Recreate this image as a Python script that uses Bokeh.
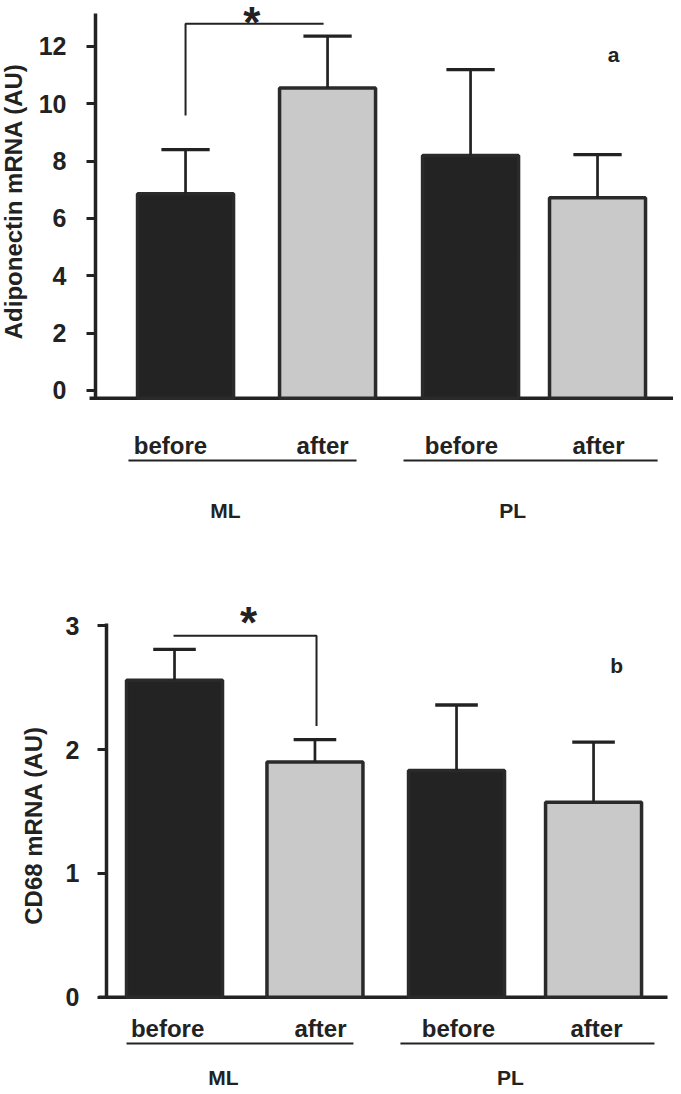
from bokeh.plotting import figure
from bokeh.layouts import column
from bokeh.models import Range1d, FixedTicker
from bokeh.core.properties import value
from bokeh.embed import file_html
from bokeh.resources import INLINE
import math

# ---------------- data ----------------
phases = ["before", "after", "before", "after"]
group_names = ["ML", "PL"]
adipo_mean = [6.86, 10.55, 8.20, 6.72]
adipo_err_top = [8.40, 12.36, 11.19, 8.23]
cd68_mean = [2.56, 1.90, 1.83, 1.575]
cd68_err_top = [2.81, 2.08, 2.36, 2.06]
adipo_ticks = [0, 2, 4, 6, 8, 10, 12]
cd68_ticks = [0, 1, 2, 3]

FONT = "Liberation Sans"
INK = "#222222"
BAR_FILL = ["#232323", "#c9c9c9", "#232323", "#c9c9c9"]


def txt(p, x, y, t, size, align="center", baseline="alphabetic", angle=0.0):
    p.text(x=x, y=y, text=t, text_font=value(FONT), text_font_style="bold",
           text_font_size=size, text_color=INK, text_align=align,
           text_baseline=baseline, angle=angle)


def panel(means, err_tops, ticks, ylabel, letter, cfg):
    p = figure(width=673, height=cfg["height"],
               x_range=Range1d(cfg["xmin"], cfg["xmax"]),
               y_range=Range1d(cfg["ymin"], cfg["ymax"]),
               output_backend="svg", toolbar_location=None,
               min_border_left=0, min_border_right=0,
               min_border_top=0, min_border_bottom=0)
    p.xaxis.visible = False
    p.grid.visible = False
    p.outline_line_color = None
    p.background_fill_color = "white"

    ax = p.yaxis[0]
    ax.fixed_location = 0
    ax.ticker = FixedTicker(ticks=ticks)
    ax.bounds = (cfg["base"], cfg["axis_top"])
    ax.axis_line_width = 3.5
    ax.axis_line_color = INK
    ax.major_tick_out = 9
    ax.major_tick_in = 0
    ax.major_tick_line_width = 3
    ax.major_tick_line_color = INK
    ax.minor_tick_out = 0
    ax.minor_tick_in = 0
    ax.major_label_text_font = FONT
    ax.major_label_text_font_style = "bold"
    ax.major_label_text_font_size = "25px"
    ax.major_label_text_color = INK
    ax.major_label_standoff = cfg["standoff"]

    pos = cfg["pos"]
    bw = cfg["bar_w"]
    # baseline (x axis line)
    p.segment(x0=[cfg["bl_x0"]], y0=[cfg["base"]], x1=[cfg["bl_x1"]],
              y1=[cfg["base"]], line_width=3.5, line_color=INK)
    # bars
    p.vbar(x=pos, width=bw, bottom=cfg["base"], top=means,
           fill_color=BAR_FILL, line_color="#2a2a2a", line_width=3.5)
    # error bars (upper only)
    p.segment(x0=pos, y0=means, x1=pos, y1=err_tops,
              line_width=2.7, line_color=INK)
    cw = cfg["cap_w"]
    p.segment(x0=[x - cw / 2 for x in pos], y0=err_tops,
              x1=[x + cw / 2 for x in pos], y1=err_tops,
              line_width=3.3, line_color=INK)
    # significance bracket
    p.line(x=cfg["br_x"], y=cfg["br_y"], line_width=2, line_color=INK)
    txt(p, [cfg["star_x"]], [cfg["star_y"]], ["*"], "44px")
    # panel letter
    txt(p, [cfg["let_x"]], [cfg["let_y"]], [letter], "21px")
    # category labels
    txt(p, cfg["lab_x"], [cfg["lab_y"]] * 4, phases, "24px")
    # group underlines
    p.segment(x0=cfg["ul_x0"], y0=[cfg["ul_y"]] * 2,
              x1=cfg["ul_x1"], y1=[cfg["ul_y"]] * 2,
              line_width=2, line_color=INK)
    # group names
    txt(p, cfg["grp_x"], [cfg["grp_y"]] * 2, group_names, "21px")
    # y axis title
    txt(p, [cfg["yl_x"]], [cfg["yl_y"]], [ylabel], "24px",
        baseline="middle", angle=math.pi / 2)
    return p


top_cfg = dict(
    height=575, xmin=-0.669, xmax=4.070, ymin=-6.453, ymax=13.603,
    base=-0.27, axis_top=13.15, standoff=20,
    bl_x0=-0.042, bl_x1=4.07,
    pos=[0.634, 1.634, 2.641, 3.535], bar_w=0.676, cap_w=0.34,
    br_x=[0.634, 0.634, 1.606], br_y=[9.59, 12.79, 12.79],
    star_x=1.10, star_y=12.85,
    let_x=3.648, let_y=11.72,
    lab_x=[0.528, 1.599, 2.577, 3.542], lab_y=-1.918,
    ul_x0=[0.232, 2.169], ul_x1=[1.838, 3.958], ul_y=-2.44,
    grp_x=[0.915, 2.937], grp_y=-4.186,
    yl_x=-0.577, yl_y=6.6,
)

bot_cfg = dict(
    height=515, xmin=-0.7465, xmax=3.993, ymin=-0.754, ymax=3.406,
    base=0.0, axis_top=3.02, standoff=18,
    bl_x0=-0.056, bl_x1=3.951,
    pos=[0.479, 1.468, 2.465, 3.430], bar_w=0.676, cap_w=0.30,
    br_x=[0.472, 1.479, 1.479], br_y=[2.92, 2.92, 2.19],
    star_x=1.0, star_y=3.03,
    let_x=3.592, let_y=2.68,
    lab_x=[0.43, 1.507, 2.479, 3.451], lab_y=-0.255,
    ul_x0=[0.141, 2.070], ul_x1=[1.739, 3.859], ul_y=-0.374,
    grp_x=[0.824, 2.845], grp_y=-0.65,
    yl_x=-0.514, yl_y=1.387,
)

p1 = panel(adipo_mean, adipo_err_top, adipo_ticks,
           "Adiponectin mRNA (AU)", "a", top_cfg)
p2 = panel(cd68_mean, cd68_err_top, cd68_ticks,
           "CD68 mRNA (AU)", "b", bot_cfg)

layout = column(p1, p2, spacing=0)
open("out.html", "w").write(file_html(layout, INLINE))
